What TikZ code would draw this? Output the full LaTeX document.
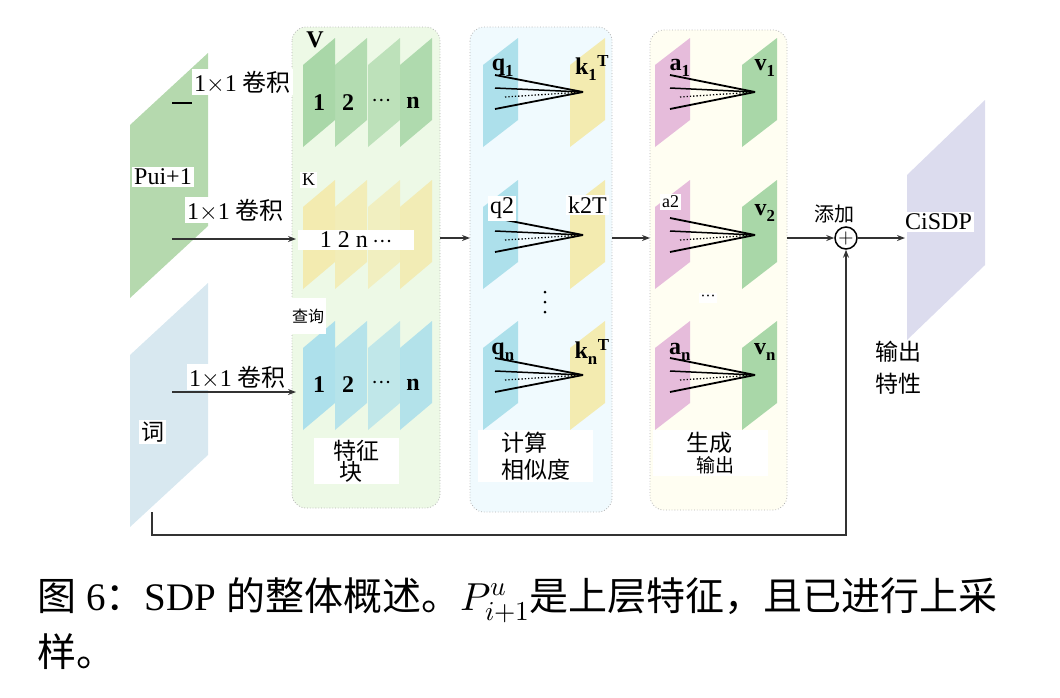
\documentclass[tikz,border=0pt]{standalone}
\usepackage{fontspec}
\usepackage{unicode-math}
\setmathfont{Latin Modern Math}
\setmainfont{Liberation Serif}
\newfontfamily\cjk{Noto Sans CJK SC}
\usetikzlibrary{arrows.meta}
\definecolor{gslab}{HTML}{B5D9AE}
\definecolor{bslab}{HTML}{D8E8F0}
\definecolor{vslab}{HTML}{A9D7A8}
\definecolor{yslab}{HTML}{F3EBB0}
\definecolor{qslab}{HTML}{ADE0EB}
\definecolor{pslab}{HTML}{E6BCDB}
\definecolor{oslab}{HTML}{DCDCEE}
\newcommand\slabp[6]{\fill[#6] (#1,#2)--(#1+#3,#2-#5)--(#1+#3,#2-#5+#4)--(#1,#2+#4)--cycle;}
\newcommand\fanl[3]{%
 \draw[line width=1.8pt] (#1,#3-17)--(#2,#3);
 \draw[line width=1.8pt] (#1,#3+17)--(#2,#3);
 \draw[line width=1.5pt] (#1,#3-4)--(#2,#3);
 \draw[dotted,line width=1.3pt] (#1+10,#3+5)--(#2,#3);}
\tikzset{lab/.style={fill=white,inner sep=2pt,font=\fontsize{24}{26}\selectfont},
 arr/.style={-{Stealth[length=8pt]},line width=1.5pt,draw=black!80},
 box/.style={rounded corners=14pt,draw=black!30,dotted,line width=0.8pt},
 bnum/.style={font=\bfseries\fontsize{24}{26}\selectfont},
 cjkl/.style={font=\cjk\fontsize{23}{27}\selectfont}}
\begin{document}
\begin{tikzpicture}[x=1pt,y=-1pt]
\useasboundingbox (0,0) rectangle (1060,697);
% containers
\filldraw[box,fill=green!5!white!95!olive] (292,27) rectangle (440,508);
\filldraw[box,fill=cyan!6] (470,27) rectangle (612,512);
\filldraw[box,fill=yellow!5] (650,30) rectangle (787,510);
% input slabs
\slabp{130}{125}{78}{173}{72}{gslab}
\slabp{130}{355}{78}{172}{72}{bslab}
\slabp{907}{175}{78}{165}{75}{oslab}
% feature stacks
\foreach \c/\yy in {vslab/65, yslab/207, qslab/348}{
 \foreach \xx/\op in {303/1, 335/0.85, 368/0.7, 400/0.9}{
  \slabp{\xx}{\yy}{32}{82}{27}{\c,opacity=\op}}}
\foreach \yy in {103,385}{
 \node[bnum] (n1\yy) at (319,\yy) {1};
 \node[bnum] (n2\yy) at (348,\yy) {2};
 \node[bnum] (nd\yy) at (382,\yy) {$\cdots$};
 \node[bnum] (nn\yy) at (413,\yy) {n};}
\node[bnum] (Vl) at (315,40) {V};
% similarity
\foreach \yy in {65,207,348}{
 \slabp{483}{\yy}{35}{82}{27}{qslab}
 \slabp{570}{\yy}{35}{82}{27}{yslab}
 \slabp{655}{\yy}{35}{82}{27}{pslab}
 \slabp{742}{\yy}{35}{82}{27}{vslab}}
\fanl{495}{583}{92}\fanl{495}{583}{235}\fanl{495}{583}{375}
\fanl{670}{755}{92}\fanl{670}{755}{235}\fanl{670}{755}{375}
\node[bnum] (q1) at (503,68) {$\mathbf{q_1}$};
\node[bnum] (k1) at (592,68) {$\mathbf{k_1{}^T}$};
\node[bnum] (qn) at (503,352) {$\mathbf{q_n}$};
\node[bnum] (kn) at (592,352) {$\mathbf{k_n{}^T}$};
\node[bnum] (a1) at (680,68) {$\mathbf{a_1}$};
\node[bnum] (v1) at (765,68) {$\mathbf{v_1}$};
\node[bnum] (v2) at (765,213) {$\mathbf{v_2}$};
\node[bnum] (an) at (680,352) {$\mathbf{a_n}$};
\node[bnum] (vn) at (765,352) {$\mathbf{v_n}$};
\foreach \yy in {292,302,312} \fill (545,\yy) circle (1.5pt);
% arrows
\coordinate (s1) at (172,103); \coordinate (e1) at (192,103);
\coordinate (s2) at (172,239); \coordinate (e2) at (296,239);
\coordinate (s3) at (172,392); \coordinate (e3) at (296,392);
\draw[line width=1.5pt] (s1)--(e1);
\draw[arr] (s2)--(e2);
\draw[arr] (s3)--(e3);
\coordinate (b1) at (440,238); \coordinate (b2) at (470,238);
\coordinate (c1) at (612,238); \coordinate (c2) at (650,238);
\draw[arr] (b1)--(b2);
\draw[arr] (c1)--(c2);
\node[circle,draw,line width=1.5pt,minimum size=22pt,inner sep=0pt,font=\bfseries\fontsize{20}{20}\selectfont] (plus) at (846,238) {$+$};
\coordinate (d1) at (787,238);
\draw[arr] (d1)--(plus);
\coordinate (o1) at (905,238);
\draw[arr] (plus)--(o1);
\coordinate (f0) at (152,512); \coordinate (f1) at (152,535); \coordinate (f2) at (846,535);
\draw[arr] (f0)--(f1)--(f2)--(plus);
% labels
\node[lab,anchor=west] (L1) at (192,82) {1$\times$1 {\cjk 卷积}};
\node[lab,anchor=west] (L2) at (185,210) {1$\times$1 {\cjk 卷积}};
\node[lab,anchor=west] (L3) at (187,377) {1$\times$1 {\cjk 卷积}};
\node[lab,anchor=west] (pui) at (132,177) {Pui+1};
\node[lab,anchor=west,cjkl] (ci) at (139,432) {词};
\node[lab,anchor=west,font=\fontsize{18}{20}\selectfont] (K) at (300,180) {K};
\node[lab,anchor=west,minimum width=116pt,align=left] (k12) at (298,240) {1 2 n $\cdots$};
\node[lab,font=\cjk\fontsize{16}{18}\selectfont,minimum height=36pt,anchor=north west] (cx) at (290,298) {查询};
\node[lab,anchor=north west,align=left,minimum width=85pt,cjkl] (tz) at (314,438) {特征\\[-6pt]\hspace*{6pt}块};
\node[lab,anchor=north west,align=left,minimum width=115pt,cjkl] (js) at (478,430) {计算\\相似度};
\node[lab,anchor=west] (q2) at (488,208) {q2};
\node[lab,anchor=west] (k2) at (566,205) {k2T};
\node[lab,anchor=west,font=\fontsize{18}{20}\selectfont] (a2) at (660,202) {a2};
\node[lab,font=\fontsize{18}{18}\selectfont] (hd) at (708,298) {$\cdots$};
\node[lab,anchor=north west,align=left,minimum width=115pt,cjkl] (sc) at (653,430) {生成\\[-6pt]\hspace*{10pt}{\fontsize{19}{22}\selectfont 输出}};
\node[font=\cjk\fontsize{20}{22}\selectfont] (tj) at (834,214) {添加};
\node[lab,anchor=west] (cis) at (903,222) {CiSDP};
\node[anchor=north west,align=left,cjkl,font=\cjk\fontsize{23}{32}\selectfont] (sc2) at (872,338) {输出\\特性};
% caption
\node[anchor=west,font=\fontsize{39}{42}\selectfont] (cap1) at (34,600) {{\cjk 图} 6{\cjk ：}SDP {\cjk 的整体概述。}$P^{u}_{i+1}${\cjk 是上层特征，且已进行上采}};
\node[anchor=west,font=\fontsize{39}{42}\selectfont] (cap2) at (34,652) {\cjk 样。};
\end{tikzpicture}
\end{document}
